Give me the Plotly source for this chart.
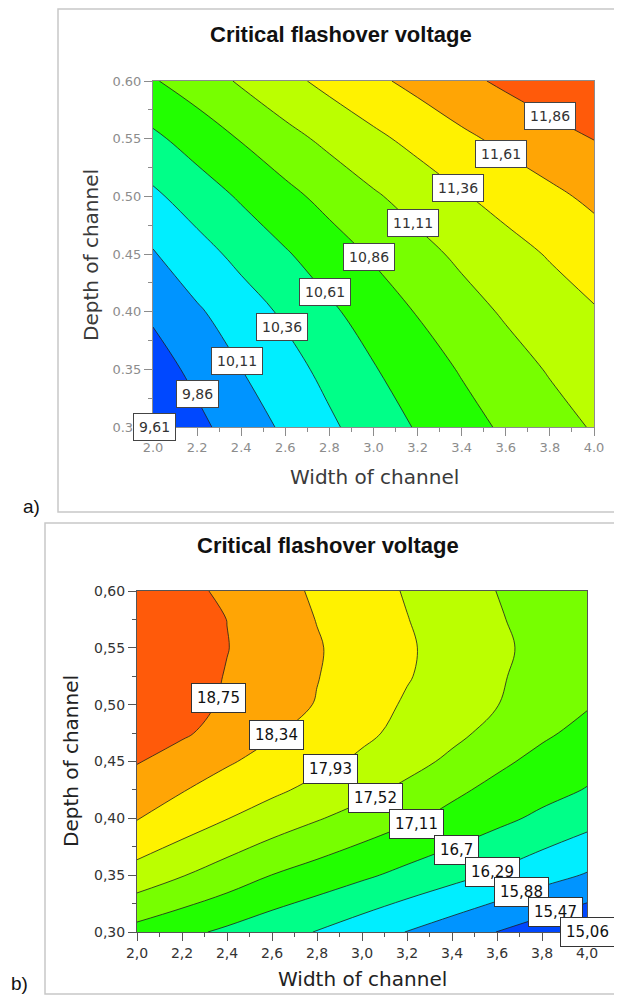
import plotly.graph_objects as go

# ---------------- data ----------------
width_vals = [2.0, 2.2, 2.4, 2.6, 2.8, 3.0, 3.2, 3.4, 3.6, 3.8, 4.0]
depth_vals_a = [0.30, 0.35, 0.40, 0.45, 0.50, 0.55, 0.60]
depth_vals_b = [0.30, 0.35, 0.40, 0.425, 0.45, 0.475, 0.50, 0.525, 0.55, 0.575, 0.60]

# panel a) critical flashover voltage (rows = depth, cols = width)
voltage_a = [
    [9.62, 9.80, 9.98, 10.15, 10.32, 10.48, 10.63, 10.765, 10.90, 11.015, 11.13],
    [9.75, 9.925, 10.108, 10.27, 10.43, 10.594, 10.74, 10.88, 11.007, 11.13, 11.235],
    [9.90, 10.08, 10.24, 10.40, 10.57, 10.72, 10.874, 11.013, 11.14, 11.24, 11.34],
    [10.09, 10.265, 10.43, 10.587, 10.74, 10.89, 11.03, 11.16, 11.27, 11.38, 11.49],
    [10.315, 10.48, 10.64, 10.79, 10.94, 11.08, 11.21, 11.34, 11.45, 11.557, 11.66],
    [10.56, 10.72, 10.875, 11.03, 11.17, 11.306, 11.435, 11.56, 11.67, 11.767, 11.865],
    [10.84, 10.98, 11.14, 11.29, 11.43, 11.56, 11.68, 11.80, 11.905, 12.01, 12.11],
]

# panel b)
voltage_b = [
    [16.97, 16.80, 16.626, 16.45, 16.274, 16.07, 15.87, 15.67, 15.465, 15.27, 15.07],
    [17.77, 17.54, 17.33, 17.105, 16.94, 16.77, 16.59, 16.415, 16.23, 16.03, 15.85],
    [18.36, 18.16, 17.94, 17.745, 17.55, 17.365, 17.18, 16.995, 16.805, 16.616, 16.43],
    [18.574, 18.36, 18.18, 18.006, 17.823, 17.635, 17.429, 17.193, 17.003, 16.84, 16.68],
    [18.77, 18.59, 18.38, 18.21, 18.04, 17.86, 17.66, 17.44, 17.19, 17.0, 16.84],
    [18.94, 18.80, 18.609, 18.377, 18.19, 18.01, 17.82, 17.618, 17.40, 17.172, 17.0],
    [19.08, 18.89, 18.70, 18.51, 18.32, 18.10, 17.885, 17.71, 17.53, 17.325, 17.14],
    [19.12, 18.925, 18.731, 18.542, 18.353, 18.155, 17.956, 17.76, 17.564, 17.376, 17.19],
    [19.15, 18.95, 18.76, 18.565, 18.37, 18.17, 17.975, 17.78, 17.595, 17.407, 17.22],
    [19.13, 18.94, 18.747, 18.538, 18.33, 18.135, 17.94, 17.75, 17.558, 17.367, 17.19],
    [19.06, 18.865, 18.673, 18.48, 18.287, 18.094, 17.90, 17.71, 17.515, 17.33, 17.14],
]

# contour levels
levels_a = dict(start=9.61, end=11.86, size=0.25)
levels_b = dict(start=15.06, end=18.75, size=0.41)

# contour label texts and where they sit (data coords)
label_text_a = ["9,61", "9,86", "10,11", "10,36", "10,61", "10,86", "11,11", "11,36", "11,61", "11,86"]
label_x_a = [2.005, 2.20, 2.38, 2.585, 2.78, 2.98, 3.18, 3.385, 3.58, 3.80]
label_y_a = [0.300, 0.329, 0.357, 0.387, 0.417, 0.447, 0.477, 0.507, 0.537, 0.570]

label_text_b = ["18,75", "18,34", "17,93", "17,52", "17,11", "16,7", "16,29", "15,88", "15,47", "15,06"]
label_x_b = [2.36, 2.62, 2.86, 3.06, 3.24, 3.42, 3.58, 3.71, 3.86, 4.00]
label_y_b = [0.506, 0.473, 0.443, 0.418, 0.395, 0.372, 0.353, 0.335, 0.318, 0.300]

# tick labels
xtick_vals = [2.0, 2.2, 2.4, 2.6, 2.8, 3.0, 3.2, 3.4, 3.6, 3.8, 4.0]
ytick_vals = [0.30, 0.35, 0.40, 0.45, 0.50, 0.55, 0.60]
xtick_text_a = ["2.0", "2.2", "2.4", "2.6", "2.8", "3.0", "3.2", "3.4", "3.6", "3.8", "4.0"]
ytick_text_a = ["0.30", "0.35", "0.40", "0.45", "0.50", "0.55", "0.60"]
xtick_text_b = ["2,0", "2,2", "2,4", "2,6", "2,8", "3,0", "3,2", "3,4", "3,6", "3,8", "4,0"]
ytick_text_b = ["0,30", "0,35", "0,40", "0,45", "0,50", "0,55", "0,60"]

title_text = "Critical flashover voltage"
xtitle_text = "Width of channel"
ytitle_text = "Depth of channel"

# ---------------- style ----------------
PAGE_W, PAGE_H = 622, 1003
BODY = 8  # default page margin of the html body
W, H = PAGE_W - 2 * BODY, PAGE_H - 2 * BODY
band_colors = ["#0022DD", "#0048FF", "#0094FF", "#00EEFF", "#00FF88", "#22FF00",
               "#77FF00", "#BBFF00", "#FFF200", "#FFA505", "#FF5A0A"]


def stepped(colors):
    n = len(colors)
    scale = []
    for i, c in enumerate(colors):
        lo = max(0.0, (i - 0.5) / (n - 1))
        hi = min(1.0, (i + 0.5) / (n - 1))
        scale.append([lo, c])
        scale.append([hi, c])
    return scale


cs = stepped(band_colors)


def px_x(px):
    return (px - BODY) / W


def px_y(py):
    return 1 - (py - BODY) / H


fig = go.Figure()
fig.add_trace(go.Contour(
    x=width_vals, y=depth_vals_a, z=voltage_a, xaxis="x", yaxis="y",
    autocontour=False, contours=dict(coloring="fill", showlines=True, **levels_a),
    line=dict(color="#1e1e1e", width=0.8, smoothing=1.2),
    colorscale=cs, showscale=False, hoverinfo="skip"))
fig.add_trace(go.Contour(
    x=width_vals, y=depth_vals_b, z=voltage_b, xaxis="x2", yaxis="y2",
    autocontour=False, contours=dict(coloring="fill", showlines=True, **levels_b),
    line=dict(color="#1e1e1e", width=0.8, smoothing=1.1),
    colorscale=cs, showscale=False, hoverinfo="skip"))


def axis_style(tickvals, ticktext, dom, anchor, rng, minor_dt, minor0, font_color, font_size, line_color):
    return dict(domain=dom, anchor=anchor, range=rng, tickmode="array",
                tickvals=tickvals, ticktext=ticktext, showgrid=False, zeroline=False,
                showline=True, linecolor=line_color, linewidth=1, mirror=True,
                ticks="outside", ticklen=8, tickwidth=1, tickcolor=line_color,
                minor=dict(ticks="outside", ticklen=4, tickcolor=line_color,
                           tick0=minor0, dtick=minor_dt, showgrid=False),
                tickfont=dict(family="DejaVu Sans", size=font_size, color=font_color),
                automargin=False, fixedrange=True)


fig.update_layout(
    width=W, height=H, margin=dict(l=0, r=0, t=0, b=0, pad=0, autoexpand=False),
    paper_bgcolor="white", plot_bgcolor="white", showlegend=False,
    xaxis=axis_style(xtick_vals, xtick_text_a, [px_x(153), px_x(594)], "y", [2.0, 4.0],
                     0.1, 2.0, "#8c8c8c", 13, "#8c8c8c"),
    yaxis=axis_style(ytick_vals, ytick_text_a, [px_y(427), px_y(81)], "x", [0.30, 0.60],
                     0.025, 0.30, "#8c8c8c", 13, "#8c8c8c"),
    xaxis2=axis_style(xtick_vals, xtick_text_b, [px_x(137), px_x(587)], "y2", [2.0, 4.0],
                      0.1, 2.0, "#333333", 14, "#555555"),
    yaxis2=axis_style(ytick_vals, ytick_text_b, [px_y(932), px_y(591)], "x2", [0.30, 0.60],
                      0.025, 0.30, "#333333", 14, "#555555"),
)

# panel frames
fig.add_shape(type="rect", xref="paper", yref="paper", x0=px_x(58), x1=1.05,
              y0=px_y(512), y1=px_y(9), line=dict(color="#c8c8c8", width=1.5), layer="below")
fig.add_shape(type="rect", xref="paper", yref="paper", x0=px_x(45), x1=1.05,
              y0=px_y(994), y1=px_y(523), line=dict(color="#c8c8c8", width=1.5), layer="below")

ann = []
# titles
ann.append(dict(text=title_text, x=px_x(341), y=px_y(35), xref="paper", yref="paper",
                showarrow=False, xanchor="center", yanchor="middle",
                font=dict(family="Liberation Sans", size=22, color="#111111", weight="bold")))
ann.append(dict(text=title_text, x=px_x(328), y=px_y(545), xref="paper", yref="paper",
                showarrow=False, xanchor="center", yanchor="middle",
                font=dict(family="Liberation Sans", size=22, color="#111111", weight="bold")))
# axis titles
ann.append(dict(text=xtitle_text, x=px_x(374), y=px_y(477), xref="paper", yref="paper",
                showarrow=False, xanchor="center", yanchor="middle",
                font=dict(family="DejaVu Sans", size=20, color="#3a3a3a")))
ann.append(dict(text=ytitle_text, x=px_x(91), y=px_y(255), xref="paper", yref="paper",
                showarrow=False, xanchor="center", yanchor="middle", textangle=-90,
                font=dict(family="DejaVu Sans", size=20, color="#3a3a3a")))
ann.append(dict(text=xtitle_text, x=px_x(362), y=px_y(979), xref="paper", yref="paper",
                showarrow=False, xanchor="center", yanchor="middle",
                font=dict(family="DejaVu Sans", size=20, color="#222222")))
ann.append(dict(text=ytitle_text, x=px_x(71), y=px_y(761), xref="paper", yref="paper",
                showarrow=False, xanchor="center", yanchor="middle", textangle=-90,
                font=dict(family="DejaVu Sans", size=20, color="#222222")))
# panel letters
ann.append(dict(text="a)", x=px_x(31), y=px_y(507), xref="paper", yref="paper",
                showarrow=False, xanchor="center", yanchor="middle",
                font=dict(family="Liberation Sans", size=19, color="#111111")))
ann.append(dict(text="b)", x=px_x(19), y=px_y(983), xref="paper", yref="paper",
                showarrow=False, xanchor="center", yanchor="middle",
                font=dict(family="Liberation Sans", size=19, color="#111111")))

# contour labels
for t, lx, ly in zip(label_text_a, label_x_a, label_y_a):
    ann.append(dict(text=t, x=lx, y=ly, xref="x", yref="y", showarrow=False,
                    bgcolor="white", bordercolor="#444444", borderwidth=1, borderpad=5,
                    font=dict(family="DejaVu Sans", size=14, color="#333333")))
for t, lx, ly in zip(label_text_b, label_x_b, label_y_b):
    ann.append(dict(text=t, x=lx, y=ly, xref="x2", yref="y2", showarrow=False,
                    bgcolor="white", bordercolor="#333333", borderwidth=1, borderpad=5,
                    font=dict(family="DejaVu Sans", size=15, color="#111111")))

fig.update_layout(annotations=ann)
fig.write_html("out.html")
